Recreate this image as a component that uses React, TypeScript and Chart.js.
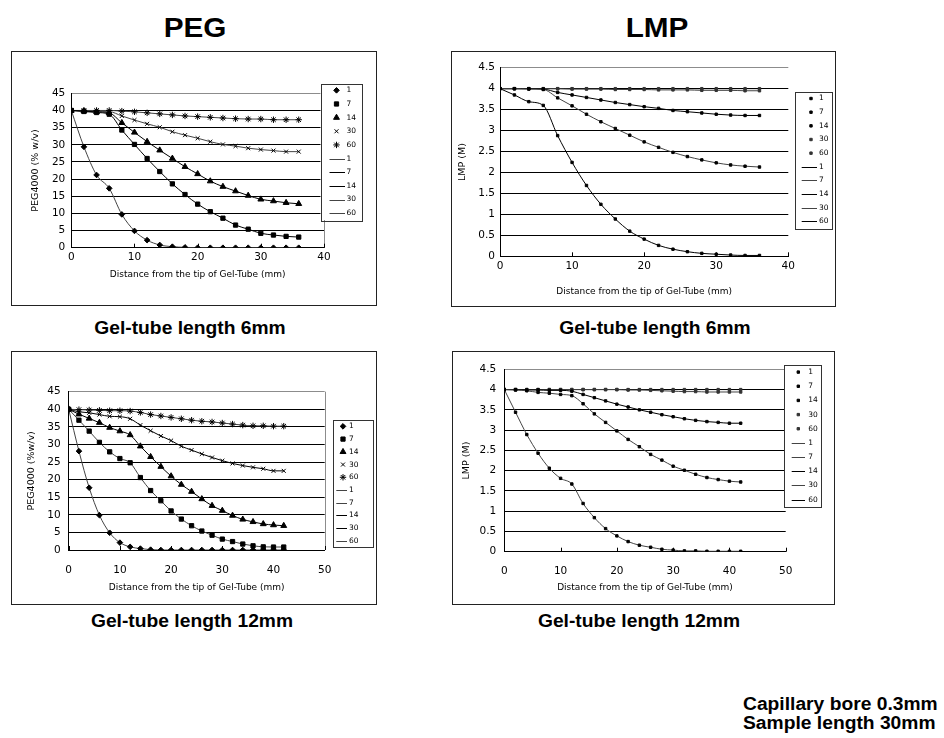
import React, { useEffect, useRef } from 'react';
import { Chart, registerables } from 'chart.js';
import { drawPoint } from 'chart.js/helpers';

Chart.register(...registerables);

const FONT = '"DejaVu Sans", Verdana, sans-serif';
const HEAD_FONT = '"Liberation Sans", Arial, sans-serif';

// ---------------- DATA ----------------
const SERIES_LABELS = ['1', '7', '14', '30', '60'];
const X_TITLE = 'Distance from the tip of Gel-Tube (mm)';

const DIST_6MM = [0, 2, 4, 6, 8, 10, 12, 14, 16, 18, 20, 22, 24, 26, 28, 30, 32, 34, 36];
const DIST_12MM = [0, 2, 4, 6, 8, 10, 12, 14, 16, 18, 20, 22, 24, 26, 28, 30, 32, 34, 36, 38, 40, 42];

const X_TICKS_6MM = ['0', '10', '20', '30', '40'];
const X_TICKS_12MM = ['0', '10', '20', '30', '40', '50'];
const PEG_Y_TICKS = ['0', '5', '10', '15', '20', '25', '30', '35', '40', '45'];
const LMP_Y_TICKS = ['0', '0.5', '1', '1.5', '2', '2.5', '3', '3.5', '4', '4.5'];

// PEG, gel-tube 6mm
const PEG6_1 = [40, 29.4, 21.2, 17.3, 9.7, 4.9, 2.2, 0.8, 0.3, 0.1, 0, 0, 0, 0, 0, 0, 0, 0, 0];
const PEG6_7 = [40, 39.7, 39.4, 38.9, 34.3, 30.1, 26.0, 22.2, 18.6, 15.5, 12.7, 10.5, 8.6, 6.6, 5.4, 4.2, 3.7, 3.3, 3.1];
const PEG6_14 = [40, 39.8, 39.6, 39.3, 36.4, 33.6, 30.9, 28.4, 26.0, 23.6, 21.5, 19.4, 17.8, 16.5, 15.2, 14.1, 13.6, 13.1, 12.8];
const PEG6_30 = [40, 39.9, 39.8, 39.7, 38.4, 37.2, 36.1, 35.1, 33.8, 32.8, 31.9, 30.9, 30.1, 29.6, 29.0, 28.6, 28.3, 28.0, 28.0];
const PEG6_60 = [40, 40, 40, 40, 39.8, 39.6, 39.3, 39.0, 38.7, 38.4, 38.2, 38.0, 37.8, 37.6, 37.5, 37.5, 37.3, 37.3, 37.3];

// LMP, gel-tube 6mm
const LMP6_1 = [4.0, 3.85, 3.69, 3.60, 2.88, 2.24, 1.69, 1.24, 0.89, 0.60, 0.41, 0.26, 0.17, 0.11, 0.07, 0.05, 0.03, 0.02, 0.02];
const LMP6_7 = [4.0, 4.0, 3.99, 3.98, 3.78, 3.59, 3.39, 3.21, 3.05, 2.89, 2.73, 2.60, 2.48, 2.38, 2.30, 2.23, 2.18, 2.15, 2.13];
const LMP6_14 = [4.0, 4.0, 4.0, 3.99, 3.91, 3.85, 3.79, 3.73, 3.67, 3.62, 3.57, 3.53, 3.48, 3.45, 3.42, 3.39, 3.37, 3.36, 3.36];
const LMP6_30 = [4.0, 4.0, 4.0, 4.0, 4.0, 3.99, 3.99, 3.99, 3.98, 3.98, 3.98, 3.97, 3.97, 3.97, 3.96, 3.96, 3.96, 3.95, 3.95];
const LMP6_60 = [4.0, 4.0, 4.0, 4.0, 4.0, 4.0, 4.0, 4.0, 4.0, 4.0, 4.0, 4.0, 4.0, 4.0, 4.0, 4.0, 4.0, 4.0, 4.0];

// PEG, gel-tube 12mm
const PEG12_1 = [40, 28.1, 17.7, 9.9, 4.9, 2.1, 0.9, 0.4, 0.1, 0, 0, 0, 0, 0, 0, 0, 0, 0, 0, 0, 0, 0];
const PEG12_7 = [40, 36.9, 33.8, 30.6, 27.9, 26.0, 24.8, 20.6, 16.9, 14.0, 11.1, 8.8, 6.9, 5.4, 4.2, 3.1, 2.4, 1.7, 1.2, 0.9, 0.85, 0.85];
const PEG12_14 = [40, 38.6, 37.4, 36.2, 34.8, 33.8, 32.7, 29.5, 26.5, 23.7, 21.0, 18.6, 16.6, 14.5, 12.6, 11.2, 9.8, 8.7, 8.0, 7.4, 7.1, 6.9];
const PEG12_30 = [40, 39.3, 39.0, 38.5, 38.0, 37.9, 37.3, 35.5, 33.9, 32.4, 31.1, 29.5, 28.4, 27.3, 26.3, 25.4, 24.6, 24.0, 23.5, 23.1, 22.5, 22.5];
const PEG12_60 = [40, 39.9, 39.8, 39.7, 39.6, 39.6, 39.5, 39.1, 38.5, 38.1, 37.7, 37.3, 36.9, 36.6, 36.4, 36.1, 35.8, 35.5, 35.3, 35.3, 35.2, 35.2];

// LMP, gel-tube 12mm
const LMP12_1 = [4.0, 3.44, 2.89, 2.43, 2.06, 1.81, 1.67, 1.19, 0.84, 0.57, 0.39, 0.25, 0.16, 0.11, 0.06, 0.04, 0.02, 0.02, 0.01, 0.01, 0.01, 0.01];
const LMP12_7 = [4.0, 3.99, 3.97, 3.93, 3.91, 3.88, 3.85, 3.65, 3.40, 3.19, 2.98, 2.77, 2.59, 2.40, 2.26, 2.11, 2.01, 1.91, 1.83, 1.78, 1.74, 1.72];
const LMP12_14 = [4.0, 4.0, 3.99, 3.99, 3.98, 3.98, 3.96, 3.88, 3.80, 3.72, 3.64, 3.57, 3.50, 3.44, 3.38, 3.33, 3.28, 3.24, 3.21, 3.19, 3.17, 3.17];
const LMP12_30 = [4.0, 4.0, 4.0, 4.0, 4.0, 4.0, 4.0, 4.0, 4.0, 4.0, 4.0, 3.99, 3.99, 3.98, 3.97, 3.96, 3.95, 3.95, 3.94, 3.94, 3.94, 3.94];
const LMP12_60 = [4.0, 4.0, 4.0, 4.0, 4.0, 4.0, 4.0, 4.0, 4.0, 4.0, 4.0, 4.0, 4.0, 4.0, 4.0, 4.0, 4.0, 4.0, 4.0, 4.0, 4.0, 4.0];

// ---------------- PANELS ----------------
type Panel = {
  left: number; top: number; W: number; H: number;
  plot: [number, number, number, number];
  dist: number[]; series: number[][];
  xMax: number; yMax: number; yStep: number;
  xTicks: string[]; yTicks: string[];
  yTitle: string; yTitleX: number; yTickPad: number;
  xTickGap: number; xTitleGap: number;
  legend: [number, number, number, number];
  lo: { marker: number; line0: number; line1: number; text: number };
  markers: string[]; markerRadius: number[]; markerColors: string[];
  lineColors: string[]; rightBorder: boolean;
};

const PEG_MARKERS = ['rectRot', 'rect', 'triangle', 'crossRot', 'star'];
const PEG_RADIUS = [2.8, 3, 3.4, 2.8, 3.2];
const PEG_MCOL = ['#000', '#000', '#000', '#000', '#000'];
const LMP_MARKERS = ['rect', 'rect', 'rect', 'rect', 'rect'];
const LMP_RADIUS = [1.7, 1.7, 1.7, 1.7, 1.7];
const LMP_MCOL = ['#000', '#000', '#000', '#333', '#333'];

const PANELS: Panel[] = [
  {
    left: 11, top: 51, W: 366, H: 255, plot: [60.3, 42.3, 313, 196.7],
    dist: DIST_6MM, series: [PEG6_1, PEG6_7, PEG6_14, PEG6_30, PEG6_60],
    xMax: 40, yMax: 45, yStep: 5, xTicks: X_TICKS_6MM, yTicks: PEG_Y_TICKS,
    yTitle: 'PEG4000 (% w/v)', yTitleX: 25, yTickPad: 6, xTickGap: 9.5, xTitleGap: 27.3,
    legend: [309.5, 32.5, 350.5, 169], lo: { marker: 16, line0: 9, line1: 24.5, text: 26 },
    markers: PEG_MARKERS, markerRadius: PEG_RADIUS, markerColors: PEG_MCOL,
    lineColors: ['#444', '#000', '#000', '#444', '#444'], rightBorder: true,
  },
  {
    left: 451, top: 51, W: 385, H: 256, plot: [49, 16.7, 337.3, 205.3],
    dist: DIST_6MM, series: [LMP6_1, LMP6_7, LMP6_14, LMP6_30, LMP6_60],
    xMax: 40, yMax: 4.5, yStep: 0.5, xTicks: X_TICKS_6MM, yTicks: LMP_Y_TICKS,
    yTitle: 'LMP (M)', yTitleX: 12, yTickPad: 5, xTickGap: 10, xTitleGap: 35.4,
    legend: [344, 40.7, 380.7, 177.3], lo: { marker: 16, line0: 6.7, line1: 22, text: 24 },
    markers: LMP_MARKERS, markerRadius: LMP_RADIUS, markerColors: LMP_MCOL,
    lineColors: ['#000', '#444', '#000', '#444', '#000'], rightBorder: false,
  },
  {
    left: 11, top: 351, W: 366, H: 254, plot: [57.7, 40.7, 313.7, 199],
    dist: DIST_12MM, series: [PEG12_1, PEG12_7, PEG12_14, PEG12_30, PEG12_60],
    xMax: 50, yMax: 45, yStep: 5, xTicks: X_TICKS_12MM, yTicks: PEG_Y_TICKS,
    yTitle: 'PEG4000 (%w/v)', yTitleX: 20.3, yTickPad: 8, xTickGap: 20.7, xTitleGap: 37.7,
    legend: [322, 69, 362, 196.3], lo: { marker: 10, line0: 3.3, line1: 14, text: 16 },
    markers: PEG_MARKERS, markerRadius: PEG_RADIUS, markerColors: PEG_MCOL,
    lineColors: ['#444', '#444', '#000', '#000', '#444'], rightBorder: true,
  },
  {
    left: 452, top: 351, W: 383, H: 254, plot: [52.3, 18.3, 333.7, 200.7],
    dist: DIST_12MM, series: [LMP12_1, LMP12_7, LMP12_14, LMP12_30, LMP12_60],
    xMax: 50, yMax: 4.5, yStep: 0.5, xTicks: X_TICKS_12MM, yTicks: LMP_Y_TICKS,
    yTitle: 'LMP (M)', yTitleX: 15, yTickPad: 8, xTickGap: 19.3, xTitleGap: 36,
    legend: [332.3, 14, 369, 155.7], lo: { marker: 14, line0: 7.4, line1: 20.7, text: 24 },
    markers: LMP_MARKERS, markerRadius: LMP_RADIUS, markerColors: LMP_MCOL,
    lineColors: ['#444', '#444', '#000', '#444', '#000'], rightBorder: false,
  },
];

// ---------------- CHART ----------------
function buildConfig(p: Panel): any {
  const [pl, pt, pr, pb] = p.plot;
  const tickSize = 10.5;
  const xTitleSize = 9;
  const yTitleSize = 9.5;
  const xTitleLH = xTitleSize * 1.2;
  const yTitleLH = yTitleSize * 1.2;

  const markerSets = p.series.map((vals, i) => ({
    label: SERIES_LABELS[i],
    data: p.dist.map((x, j) => ({ x, y: vals[j] })),
    showLine: false,
    pointStyle: p.markers[i],
    pointRadius: p.markerRadius[i],
    pointBackgroundColor: p.markerColors[i],
    pointBorderColor: p.markerColors[i],
    pointBorderWidth: 1,
    borderColor: p.markerColors[i],
  }));
  const lineSets = p.series.map((vals, i) => ({
    label: SERIES_LABELS[i],
    data: p.dist.map((x, j) => ({ x, y: vals[j] })),
    showLine: true,
    pointRadius: 0,
    borderColor: p.lineColors[i],
    borderWidth: 1,
    cubicInterpolationMode: 'monotone',
    fill: false,
  }));

  const framePlugin = {
    id: 'panelFrame',
    beforeDraw(chart: any) {
      const ctx = chart.ctx;
      ctx.save();
      ctx.fillStyle = '#fff';
      ctx.fillRect(0, 0, p.W, p.H);
      ctx.strokeStyle = '#222';
      ctx.lineWidth = 1;
      ctx.strokeRect(0.5, 0.5, p.W - 1, p.H - 1);
      ctx.restore();
    },
    beforeDatasetsDraw(chart: any) {
      const ctx = chart.ctx;
      const ca = chart.chartArea;
      const xs = chart.scales.x;
      ctx.save();
      ctx.lineWidth = 1;
      if (p.rightBorder) {
        ctx.strokeStyle = '#8c8c8c';
        const rx = Math.round(ca.right) + 0.5;
        ctx.beginPath();
        ctx.moveTo(rx, ca.top);
        ctx.lineTo(rx, ca.bottom);
        ctx.stroke();
      }
      ctx.strokeStyle = '#000';
      xs.ticks.forEach((t: any) => {
        const px = Math.round(xs.getPixelForValue(t.value)) + 0.5;
        ctx.beginPath();
        ctx.moveTo(px, ca.bottom);
        ctx.lineTo(px, ca.bottom - 4);
        ctx.stroke();
      });
      ctx.restore();
    },
  };

  const legendPlugin = {
    id: 'boxLegend',
    afterDraw(chart: any) {
      const ctx = chart.ctx;
      const [l, t, r, b] = p.legend;
      ctx.save();
      ctx.fillStyle = '#fff';
      ctx.fillRect(l, t, r - l, b - t);
      ctx.strokeStyle = '#333';
      ctx.lineWidth = 1;
      ctx.strokeRect(Math.round(l) + 0.5, Math.round(t) + 0.5, Math.round(r - l), Math.round(b - t));
      const ds = chart.data.datasets;
      const step = (b - t) / ds.length;
      ds.forEach((d: any, i: number) => {
        const y = t + step * (i + 0.5);
        if (d.showLine === false) {
          ctx.fillStyle = d.pointBackgroundColor;
          ctx.strokeStyle = d.pointBorderColor;
          ctx.lineWidth = 1;
          drawPoint(ctx, { pointStyle: d.pointStyle, radius: d.pointRadius, borderWidth: 1, rotation: 0 } as any, l + p.lo.marker, y);
        } else {
          ctx.strokeStyle = d.borderColor;
          ctx.lineWidth = 1;
          const yy = Math.round(y) + 0.5;
          ctx.beginPath();
          ctx.moveTo(l + p.lo.line0, yy);
          ctx.lineTo(l + p.lo.line1, yy);
          ctx.stroke();
        }
        ctx.fillStyle = '#000';
        ctx.font = `7.5px ${FONT}`;
        ctx.textAlign = 'left';
        ctx.textBaseline = 'middle';
        ctx.fillText(d.label, l + p.lo.text, y);
      });
      ctx.restore();
    },
  };

  const labelFor = (labels: string[]) => (v: any) => {
    const s = String(Math.round(Number(v) * 1000) / 1000);
    return labels.includes(s) ? s : '';
  };

  return {
    type: 'line',
    data: { datasets: [...markerSets, ...lineSets] },
    options: {
      animation: false,
      responsive: false,
      events: [],
      layout: { padding: { left: 0, top: pt, right: p.W - pr, bottom: 0 } },
      plugins: { legend: { display: false }, tooltip: { enabled: false } },
      scales: {
        x: {
          type: 'linear',
          min: 0,
          max: p.xMax,
          afterFit: (s: any) => { s.height = p.H - pb; },
          ticks: {
            stepSize: 10,
            padding: p.xTickGap - tickSize * 0.6,
            color: '#000',
            maxRotation: 0,
            font: { family: FONT, size: tickSize },
            callback: labelFor(p.xTicks),
          },
          grid: { display: false, drawTicks: false },
          border: { display: true, color: '#000', width: 1 },
          title: {
            display: true,
            text: X_TITLE,
            color: '#000',
            font: { family: FONT, size: xTitleSize },
            padding: { top: 0, bottom: (p.H - pb) - p.xTitleGap - xTitleLH / 2 },
          },
        },
        y: {
          type: 'linear',
          min: 0,
          max: p.yMax,
          afterFit: (s: any) => { s.width = pl; },
          ticks: {
            stepSize: p.yStep,
            padding: p.yTickPad,
            color: '#000',
            font: { family: FONT, size: tickSize },
            callback: labelFor(p.yTicks),
          },
          grid: {
            drawTicks: false,
            lineWidth: 1,
            color: (c: any) => (c.tick && c.tick.value === p.yMax ? '#8c8c8c' : '#000'),
          },
          border: { display: true, color: '#000', width: 1 },
          title: {
            display: true,
            text: p.yTitle,
            color: '#000',
            font: { family: FONT, size: yTitleSize },
            padding: { top: p.yTitleX - yTitleLH / 2, bottom: 0 },
          },
        },
      },
    },
    plugins: [framePlugin, legendPlugin],
  };
}

function ChartPanel({ p }: { p: Panel }) {
  const ref = useRef<HTMLCanvasElement>(null);
  useEffect(() => {
    if (!ref.current) return;
    const chart = new Chart(ref.current, buildConfig(p));
    return () => chart.destroy();
  }, [p]);
  return (
    <canvas
      ref={ref}
      width={p.W}
      height={p.H}
      style={{ position: 'absolute', left: p.left, top: p.top, width: p.W, height: p.H, display: 'block' }}
    />
  );
}

function Text({ text, baseline, size, cx, left }: { text: string; baseline: number; size: number; cx?: number; left?: number }) {
  const style: any = {
    position: 'absolute',
    top: baseline - 0.846 * size,
    fontFamily: HEAD_FONT,
    fontWeight: 'bold',
    fontSize: size,
    lineHeight: `${size}px`,
    whiteSpace: 'nowrap',
    color: '#000',
    transform: 'scaleX(1.1)',
  };
  if (cx !== undefined) {
    style.left = cx - 200;
    style.width = 400;
    style.textAlign = 'center';
    style.transformOrigin = '50% 50%';
  } else {
    style.left = left;
    style.transformOrigin = '0 50%';
  }
  return <div style={style}>{text}</div>;
}

export default function App() {
  return (
    <div style={{ position: 'absolute', left: 0, top: 0, width: 944, height: 738, overflow: 'hidden', background: '#fff' }}>
      <Text text="PEG" cx={195} baseline={38} size={27} />
      <Text text="LMP" cx={657} baseline={38} size={27} />
      {PANELS.map((p, i) => <ChartPanel key={i} p={p} />)}
      <Text text="Gel-tube length 6mm" cx={190} baseline={335} size={17.5} />
      <Text text="Gel-tube length 6mm" cx={655} baseline={335} size={17.5} />
      <Text text="Gel-tube length 12mm" cx={191.5} baseline={627.7} size={17.5} />
      <Text text="Gel-tube length 12mm" cx={639} baseline={627.7} size={17.5} />
      <Text text="Capillary bore 0.3mm" left={743} baseline={710.7} size={17.5} />
      <Text text="Sample length 30mm" left={743} baseline={730} size={17.5} />
    </div>
  );
}
